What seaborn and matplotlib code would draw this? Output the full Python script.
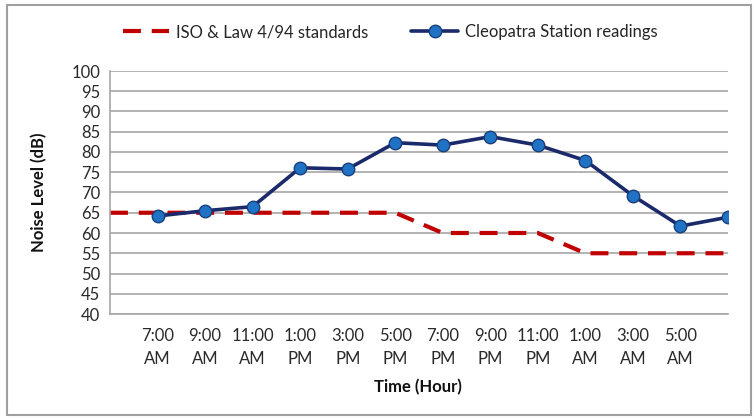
import numpy as np
import pandas as pd
import matplotlib
matplotlib.use("Agg")
import matplotlib.pyplot as plt
from matplotlib.patches import Rectangle
import seaborn as sns

# Hourly sampling times (last reading has no label on the axis)
time_labels = ["7:00\nAM", "9:00\nAM", "11:00\nAM", "1:00\nPM", "3:00\nPM", "5:00\nPM",
               "7:00\nPM", "9:00\nPM", "11:00\nPM", "1:00\nAM", "3:00\nAM", "5:00\nAM"]
readings = [64.2, 65.5, 66.5, 76.1, 75.8, 82.3, 81.7, 83.8, 81.7, 77.9, 69.2, 61.7, 63.9]
# Permitted limits, starting one slot before the first reading
standards = [65, 65, 65, 65, 65, 65, 65, 60, 60, 60, 55, 55, 55, 55]

sns.set_theme(style="white")
plt.rcParams["font.family"] = ["Lato", "DejaVu Sans"]

read_pos = np.arange(len(readings))
std_pos = np.arange(len(standards)) - 1
df_read = pd.DataFrame({"pos": read_pos, "dB": readings})
df_std = pd.DataFrame({"pos": std_pos, "dB": standards})

fig = plt.figure(figsize=(7.54, 4.19), dpi=100)
ax = fig.add_axes([110 / 754, 1 - 314 / 419, (728 - 110) / 754, (314 - 71) / 419])

navy = "#1b2a6b"
red = "#c00000"
grid = "#a6a6a6"
fs = 12

sns.lineplot(data=df_std, x="pos", y="dB", ax=ax, color=red, lw=3,
             linestyle=(0, (4.3, 2.6)), label="ISO & Law 4/94 standards")
sns.lineplot(data=df_read, x="pos", y="dB", ax=ax, color=navy, lw=2.6,
             marker="o", markersize=9, markerfacecolor="#1f72c4",
             markeredgecolor="#1a3f7a", markeredgewidth=1.0,
             label="Cleopatra Station readings")

ax.set_xlim(-1, len(readings) - 1)
ax.set_ylim(40, 100)
ax.set_yticks(np.arange(40, 101, 5))
ax.yaxis.grid(True, color=grid, lw=1.2)
ax.set_axisbelow(True)

ax.set_xticks(np.arange(-1, len(readings) - 0.99, 0.5))
ax.set_xticklabels([""] * len(ax.get_xticks()))
for i, lab in enumerate(time_labels):
    ax.text(i, -0.1375, lab, transform=ax.get_xaxis_transform(), ha="center", va="center",
            fontsize=fs, color="#2a2a2a", linespacing=1.55)

ax.tick_params(axis="both", which="both", direction="out", length=4, width=1,
               color=grid, labelsize=fs, labelcolor="#2a2a2a")
ax.tick_params(axis="y", pad=3)

for side in ["top", "right"]:
    ax.spines[side].set_visible(False)
for side in ["left", "bottom"]:
    ax.spines[side].set_color(grid)
    ax.spines[side].set_linewidth(1.2)

ax.set_xlabel("")
ax.set_ylabel("Noise Level (dB)", fontsize=fs, fontweight="bold", color="#111111")
ax.yaxis.set_label_coords((47 - 110) / 618, 0.5)
fig.text(418 / 754, 1 - 387 / 419, "Time (Hour)", ha="center", va="center",
         fontsize=fs, fontweight="bold", color="#111111")

ax.legend(loc="center", bbox_to_anchor=(390 / 754, 1 - 32 / 419), bbox_transform=fig.transFigure,
          ncol=2, frameon=False, fontsize=fs, handlelength=2.8, columnspacing=2.6,
          handletextpad=0.4)

fig.add_artist(Rectangle((7 / 754, 4 / 419), 744 / 754, 410 / 419, transform=fig.transFigure,
                         fill=False, edgecolor="#a0a0a0", lw=1.5))

fig.savefig("out.png", dpi=100)
